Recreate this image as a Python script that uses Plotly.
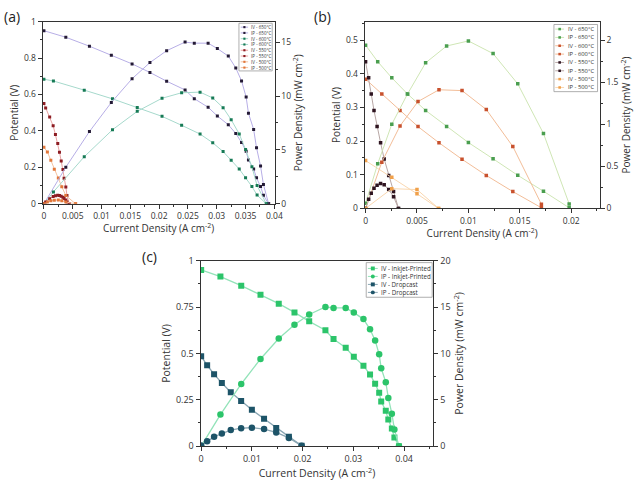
import plotly.graph_objects as go

W, H = 640, 482
FONT = "Open Sans"
AX = "#333333"
TXT = "#333333"

# ---------------- Panel (a): temperature series (inkjet cell) ----------------
J650 = [0, 0.0038, 0.0079, 0.0117, 0.0153, 0.0184, 0.0213, 0.0245, 0.0261, 0.0285, 0.0301,
        0.0320, 0.0333, 0.0343, 0.0351, 0.0355, 0.0364, 0.0369, 0.0376, 0.0381, 0.0390]
V650 = [0.950, 0.914, 0.865, 0.816, 0.768, 0.721, 0.673, 0.625, 0.577, 0.530, 0.482,
        0.434, 0.386, 0.337, 0.288, 0.240, 0.191, 0.143, 0.095, 0.047, 0.0]
P650 = [0, 3.4, 6.7, 9.4, 11.6, 13.1, 14.2, 15.0, 14.9, 14.9, 14.4,
        13.7, 12.6, 11.4, 9.9, 8.4, 6.9, 5.2, 3.5, 1.8, 0]

J600 = [0, 0.00165, 0.0070, 0.0119, 0.0162, 0.0205, 0.0239, 0.0271, 0.0293, 0.0311,
        0.0325, 0.0339, 0.0350, 0.0361, 0.0370, 0.0386]
V600 = [0.684, 0.674, 0.624, 0.576, 0.528, 0.480, 0.431, 0.383, 0.335, 0.287,
        0.239, 0.191, 0.143, 0.095, 0.048, 0.0]
P600 = [0, 1.11, 4.37, 6.87, 8.58, 9.79, 10.3, 10.36, 9.82, 8.92,
        7.8, 6.48, 5.03, 3.43, 1.69, 0]

J550 = [0, 0.0003, 0.0010, 0.0016, 0.0020, 0.0024, 0.0027, 0.0030, 0.0033, 0.0035, 0.0038, 0.0040, 0.0044]
V550 = [0.55, 0.526, 0.476, 0.428, 0.380, 0.331, 0.283, 0.235, 0.189, 0.141, 0.093, 0.046, 0.0]
P550 = [0, 0.16, 0.48, 0.68, 0.76, 0.79, 0.77, 0.71, 0.62, 0.49, 0.35, 0.18, 0]

J500 = [0, 0.0006, 0.0012, 0.0018, 0.0025, 0.0031, 0.0038, 0.0055]
V500 = [0.31, 0.285, 0.239, 0.190, 0.142, 0.094, 0.046, 0.0]
P500 = [0, 0.17, 0.29, 0.34, 0.36, 0.29, 0.17, 0]

# ---------------- Panel (b): temperature series (dropcast cell) ----------------
Jb650 = [0, 0.00118, 0.00255, 0.00408, 0.00584, 0.00788, 0.0100, 0.0124, 0.0148, 0.0173, 0.0198]
Vb650 = [0.485, 0.436, 0.388, 0.340, 0.291, 0.2437, 0.1956, 0.1474, 0.0983, 0.0511, 0.002]
Pb650 = [0.06, 0.53, 1.0, 1.36, 1.73, 1.93, 1.99, 1.84, 1.48, 0.89, 0.054]

Jb600 = [0, 0.00158, 0.00335, 0.0051, 0.00714, 0.00938, 0.01174, 0.01432, 0.0171]
Vb600 = [0.384, 0.340, 0.291, 0.243, 0.195, 0.146, 0.098, 0.050, 0.002]
Pb600 = [0, 0.55, 0.98, 1.27, 1.41, 1.40, 1.175, 0.736, 0.05]

Jb550 = [0, 0.0003, 0.00055, 0.00082, 0.00112, 0.00146, 0.00181, 0.00225, 0.00272, 0.0032]
Vb550 = [0.436, 0.388, 0.340, 0.291, 0.243, 0.195, 0.147, 0.098, 0.050, 0.0]
Pb550 = [0, 0.11, 0.18, 0.24, 0.275, 0.297, 0.28, 0.225, 0.14, 0]

Jb500 = [0, 0.00255, 0.0050, 0.0071]
Vb500 = [0.142, 0.0925, 0.0434, 0.0]
Pb500 = [0, 0.235, 0.224, 0]

# ---------------- Panel (c): inkjet (=650 of a) vs dropcast (=650 of b) ----------------
J_ink, V_ink, P_ink = J650, V650, P650
J_drop, V_drop, P_drop = Jb650, Vb650, Pb650

# legend names
names_a = ["IV - 650°C", "IP - 650°C", "IV - 600°C", "IP - 600°C",
           "IV - 550°C", "IP - 550°C", "IV - 500°C", "IP - 500°C"]
names_b = names_a
names_c = ["IV - Inkjet-Printed", "IP - Inkjet-Printed", "IV - Dropcast", "IP - Dropcast"]

# tick labels
xt_a = [0, 0.005, 0.01, 0.015, 0.02, 0.025, 0.03, 0.035, 0.04]
xtl_a = ["0", "0.005", "0.01", "0.015", "0.02", "0.025", "0.03", "0.035", "0.04"]
yt_a = [0, 0.2, 0.4, 0.6, 0.8, 1]
ytl_a = ["0", "0.2", "0.4", "0.6", "0.8", "1"]
y2t_a = [0, 5, 10, 15]
y2tl_a = ["0", "5", "10", "15"]

xt_b = [0, 0.005, 0.01, 0.015, 0.02]
xtl_b = ["0", "0.005", "0.01", "0.015", "0.02"]
yt_b = [0, 0.1, 0.2, 0.3, 0.4, 0.5]
ytl_b = ["0", "0.1", "0.2", "0.3", "0.4", "0.5"]
y2t_b = [0, 0.5, 1, 1.5, 2]
y2tl_b = ["0", "0.5", "1", "1.5", "2"]

xt_c = [0, 0.01, 0.02, 0.03, 0.04]
xtl_c = ["0", "0.01", "0.02", "0.03", "0.04"]
yt_c = [0, 0.25, 0.5, 0.75, 1]
ytl_c = ["0", "0.25", "0.5", "0.75", "1"]
y2t_c = [0, 5, 10, 15, 20]
y2tl_c = ["0", "5", "10", "15", "20"]

# colours (marker, line)
col_a = [("#241a35", "#b7aee6"), ("#167a55", "#a6d9cc"), ("#8c1c22", "#e9a3a3"), ("#e2773a", "#f4c3a2")]
col_b = [("#4a9e4f", "#cfe6b5"), ("#c8512d", "#f2bd98"), ("#2e1420", "#b8a7a5"), ("#f0a04a", "#f9d7b0")]
col_c = [("#2cc46a", "#93e3b9"), ("#1d5468", "#8aa6b3")]

fig = go.Figure()


def add(x, y, xa, ya, mc, lc, symbol, msize, lw):
    fig.add_trace(go.Scatter(x=x, y=y, xaxis=xa, yaxis=ya, mode="lines+markers",
                             line=dict(color=lc, width=lw),
                             marker=dict(color=mc, symbol=symbol, size=msize),
                             showlegend=False))


series_a = [(J650, V650, P650), (J600, V600, P600), (J550, V550, P550), (J500, V500, P500)]
for (j, v, p), (mc, lc) in zip(series_a, col_a):
    add(j, v, "x", "y", mc, lc, "square", 3, 1)
    add(j, p, "x", "y2", mc, lc, "square", 3, 1)

series_b = [(Jb650, Vb650, Pb650), (Jb600, Vb600, Pb600), (Jb550, Vb550, Pb550), (Jb500, Vb500, Pb500)]
for (j, v, p), (mc, lc) in zip(series_b, col_b):
    add(j, v, "x2", "y3", mc, lc, "square", 3.5, 1)
    add(j, p, "x2", "y4", mc, lc, "square", 3.5, 1)

series_c = [(J_ink, V_ink, P_ink), (J_drop, V_drop, P_drop)]
for (j, v, p), (mc, lc) in zip(series_c, col_c):
    add(j, v, "x3", "y5", mc, lc, "square", 6, 1.3)
    add(j, p, "x3", "y6", mc, lc, "circle", 6.5, 1.3)


def px2x(px):
    return px / W


def px2y(py):
    return 1 - py / H


def axis_common(tv, tt, title, minor_dtick, tsize=9, title_size=10.5):
    return dict(showline=True, linecolor=AX, linewidth=1, ticks="outside", ticklen=4, tickwidth=1,
                tickcolor=AX, tickmode="array", tickvals=tv, ticktext=tt,
                tickfont=dict(size=tsize, color=TXT, family=FONT), showgrid=False, zeroline=False,
                title=dict(text=title, font=dict(size=title_size, color=TXT, family=FONT), standoff=3),
                minor=dict(ticks="outside", ticklen=2, tickcolor=AX, dtick=minor_dtick, tick0=0))


XT = "Current Density (A cm<sup>-2</sup>)"
YT = "Potential (V)"
Y2T = "Power Density (mW cm<sup>-2</sup>)"

layout = dict(width=W, height=H, margin=dict(l=0, r=0, t=0, b=0),
              paper_bgcolor="white", plot_bgcolor="white", showlegend=False,
              font=dict(family=FONT, color=TXT))

# panel a
layout["xaxis"] = dict(domain=[px2x(41.3), px2x(277)], range=[-0.00022, 0.04005], anchor="y", mirror=True,
                       **axis_common(xt_a, xtl_a, XT, 0.0025, 8.5, 10))
layout["yaxis"] = dict(domain=[px2y(202.3), px2y(15)], range=[0, 1], anchor="x",
                       **axis_common(yt_a, ytl_a, YT, 0.1, 8.5, 10))
layout["yaxis2"] = dict(range=[0, 16.9], anchor="x", overlaying="y", side="right",
                        **axis_common(y2t_a, y2tl_a, Y2T, 2.5, 8.5, 10))
# panel b
layout["xaxis2"] = dict(domain=[px2x(368.3), px2x(607.3)], range=[-0.0001, 0.02278], anchor="y3", mirror=True,
                        **axis_common(xt_b, xtl_b, XT, 0.0025, 8.5, 10))
layout["yaxis3"] = dict(domain=[px2y(207), px2y(15)], range=[0, 0.555], anchor="x2",
                        **axis_common(yt_b, ytl_b, YT, 0.05, 8.5, 10))
layout["yaxis4"] = dict(range=[0, 2.22], anchor="x2", overlaying="y3", side="right",
                        **axis_common(y2t_b, y2tl_b, Y2T, 0.25, 8.5, 10))
# panel c
layout["xaxis3"] = dict(domain=[px2x(201.7), px2x(438.3)], range=[-0.00012, 0.0458], anchor="y5", mirror=True,
                        **axis_common(xt_c, xtl_c, XT, 0.005))
layout["yaxis5"] = dict(domain=[px2y(451.3), px2y(260.7)], range=[0, 1], anchor="x3",
                        **axis_common(yt_c, ytl_c, YT, 0.125))
layout["yaxis6"] = dict(range=[0, 20], anchor="x3", overlaying="y5", side="right",
                        **axis_common(y2t_c, y2tl_c, Y2T, 2.5))

fig.update_layout(**layout)

# panel labels
for txt, px, py in [("(a)", 10, 10), ("(b)", 326, 10), ("(c)", 150, 256)]:
    fig.add_annotation(text=txt, x=px2x(px), y=px2y(py), xref="paper", yref="paper",
                       showarrow=False, xanchor="center", yanchor="middle",
                       font=dict(size=14, color="#222222", family=FONT))


# custom compact legends
def legend(box, y0, dy, lx0, lx1, tx, names, mcols, lcols, symbols, msz, fsize):
    bx0, by0, bx1, by1 = box
    fig.add_shape(type="rect", xref="paper", yref="paper", x0=px2x(bx0), x1=px2x(bx1),
                  y0=px2y(by1), y1=px2y(by0), line=dict(color="#9a9a9a", width=0.8), fillcolor="white")
    for i, name in enumerate(names):
        yy = y0 + dy * i
        fig.add_shape(type="line", xref="paper", yref="paper", x0=px2x(lx0), x1=px2x(lx1),
                      y0=px2y(yy), y1=px2y(yy), line=dict(color=lcols[i], width=1))
        mx = (lx0 + lx1) / 2
        h = msz / 2
        fig.add_shape(type="circle" if symbols[i] == "circle" else "rect", xref="paper", yref="paper",
                      x0=px2x(mx - h), x1=px2x(mx + h), y0=px2y(yy + h), y1=px2y(yy - h),
                      line=dict(width=0), fillcolor=mcols[i])
        fig.add_annotation(text=name, x=px2x(tx), y=px2y(yy), xref="paper", yref="paper",
                           showarrow=False, xanchor="left", yanchor="middle",
                           font=dict(size=fsize, color=TXT, family=FONT))


mc_a = [c[0] for c in col_a for _ in range(2)]
lc_a = [c[1] for c in col_a for _ in range(2)]
legend((240.7, 16.7, 274.5, 65.7), 20.7, 5.94, 242.5, 250, 251.2, names_a, mc_a, lc_a,
       ["square"] * 8, 2.2, 4.5)

mc_b = [c[0] for c in col_b for _ in range(2)]
lc_b = [c[1] for c in col_b for _ in range(2)]
legend((560.7, 18, 605, 87), 22.7, 8.57, 562, 571, 572.5, names_b, mc_b, lc_b,
       ["square"] * 8, 2.6, 5.8)

mc_c = [c[0] for c in col_c for _ in range(2)]
lc_c = [c[1] for c in col_c for _ in range(2)]
legend((370, 262.7, 437, 298.3), 268.7, 8.2, 371.7, 381.7, 383.3, names_c, mc_c, lc_c,
       ["square", "circle", "square", "circle"], 4, 6.2)

fig.write_html("out.html")
